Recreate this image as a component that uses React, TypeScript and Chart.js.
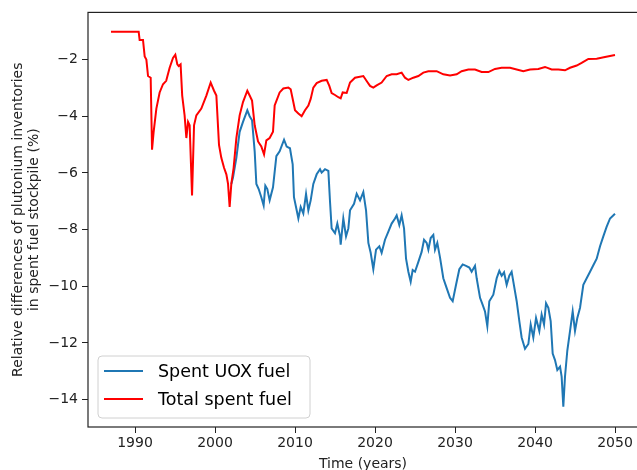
import React, { useEffect, useRef } from "react";
import { Chart, registerables } from "chart.js";

Chart.register(...registerables);

// Total spent fuel (red)
const totalYears = [
  1987.0, 1990.46, 1990.58, 1991.0, 1991.21, 1991.42, 1991.63, 1991.96, 1992.13, 1992.33,
  1992.67, 1993.08, 1993.5, 1993.9, 1994.33, 1994.75, 1995.04, 1995.29, 1995.46, 1995.7,
  1995.9, 1996.2, 1996.42, 1996.63, 1996.83, 1997.13, 1997.38, 1997.67, 1998.29, 1998.92,
  1999.46, 1999.88, 2000.17, 2000.5, 2000.79, 2001.13, 2001.42, 2001.63, 2001.83, 2002.04,
  2002.33, 2002.67, 2003.08, 2003.5, 2004.04, 2004.33, 2004.63, 2004.96, 2005.38, 2005.79,
  2006.13, 2006.42, 2006.83, 2007.25, 2007.46, 2008.08, 2008.54, 2009.17, 2009.46, 2009.79,
  2010.0, 2010.42, 2010.83, 2011.25, 2011.67, 2011.96, 2012.29, 2012.71, 2013.33, 2013.96,
  2014.29, 2014.58, 2015.0, 2015.42, 2015.71, 2015.96, 2016.46, 2016.88, 2017.5, 2018.54,
  2019.04, 2019.38, 2019.79, 2020.21, 2020.83, 2021.46, 2022.08, 2022.71, 2023.33, 2023.75,
  2024.17, 2024.79, 2025.42, 2026.04, 2026.67, 2027.71, 2028.54, 2029.38, 2030.21, 2030.83,
  2031.67, 2032.5, 2033.33, 2034.17, 2035.0, 2035.83, 2036.88, 2037.71, 2038.54, 2039.38,
  2040.42, 2041.25, 2042.08, 2042.92, 2043.75, 2044.38, 2045.21, 2045.83, 2046.67, 2047.71,
  2048.75, 2050.0,
];
const totalValues = [
  -1.02, -1.02, -1.31, -1.31, -1.89, -2.0, -2.58, -2.64, -5.18, -4.55,
  -3.73, -3.16, -2.87, -2.75, -2.29, -1.94, -1.83, -2.17, -2.23, -2.17,
  -3.27, -3.97, -4.77, -4.2, -4.32, -6.8, -4.32, -3.97, -3.73, -3.27,
  -2.81, -3.1, -3.27, -5.01, -5.47, -5.82, -6.05, -6.39, -7.2, -6.39,
  -5.82, -4.77, -3.97, -3.5, -3.1, -3.27, -3.45, -4.32, -4.89, -5.07,
  -5.35, -4.85, -4.77, -4.55, -3.62, -3.16, -3.02, -2.99, -3.05, -3.5,
  -3.79, -3.9, -4.0, -3.79, -3.62, -3.39, -2.99, -2.83, -2.75, -2.72,
  -2.93, -3.18, -3.25, -3.33, -3.37, -3.16, -3.18, -2.81, -2.64, -2.58,
  -2.79, -2.93, -2.99, -2.91, -2.81, -2.58, -2.52, -2.52, -2.46, -2.64,
  -2.72, -2.64, -2.58, -2.46, -2.41, -2.41, -2.52, -2.56, -2.52, -2.41,
  -2.35, -2.35, -2.44, -2.44, -2.33, -2.29, -2.29, -2.35, -2.41, -2.35,
  -2.33, -2.26, -2.35, -2.35, -2.38, -2.29, -2.21, -2.12, -1.98, -1.97,
  -1.91, -1.84,
];

// Spent UOX fuel (blue)
const uoxYears = [
  2002.04, 2002.25, 2002.67, 2003.08, 2003.5, 2004.04, 2004.33, 2004.63, 2004.96, 2005.17,
  2005.46, 2005.79, 2006.08, 2006.29, 2006.54, 2006.83, 2007.25, 2007.67, 2008.08, 2008.63,
  2008.96, 2009.37, 2009.71, 2009.87, 2010.21, 2010.42, 2010.71, 2011.04, 2011.38, 2011.67,
  2011.96, 2012.29, 2012.71, 2013.13, 2013.33, 2013.75, 2014.17, 2014.38, 2014.58, 2015.0,
  2015.29, 2015.63, 2015.71, 2016.04, 2016.38, 2016.67, 2016.88, 2017.38, 2017.71, 2018.13,
  2018.54, 2018.88, 2019.17, 2019.46, 2019.79, 2020.13, 2020.54, 2020.83, 2021.25, 2021.67,
  2022.08, 2022.5, 2022.71, 2023.04, 2023.33, 2023.63, 2023.88, 2024.17, 2024.46, 2024.71,
  2025.0, 2025.42, 2025.83, 2026.13, 2026.46, 2026.67, 2026.96, 2027.29, 2027.5, 2027.79,
  2028.13, 2028.54, 2028.96, 2029.38, 2029.71, 2030.13, 2030.54, 2030.96, 2031.38, 2031.79,
  2032.08, 2032.5, 2032.71, 2033.13, 2033.46, 2033.75, 2034.04, 2034.29, 2034.79, 2035.21,
  2035.54, 2035.83, 2036.13, 2036.46, 2036.79, 2037.08, 2037.29, 2037.71, 2038.04, 2038.33,
  2038.75, 2039.17, 2039.46, 2039.79, 2040.13, 2040.54, 2040.83, 2041.13, 2041.38, 2041.67,
  2041.96, 2042.21, 2042.5, 2042.79, 2043.13, 2043.33, 2043.54, 2043.75, 2044.04, 2044.38,
  2044.71, 2045.0, 2045.29, 2045.63, 2046.04, 2046.46, 2046.88, 2047.29, 2047.71, 2048.13,
  2048.54, 2048.96, 2049.38, 2050.0,
];
const uoxValues = [
  -6.39, -6.16, -5.47, -4.55, -4.2, -3.79, -4.0, -4.14, -5.24, -6.39,
  -6.57, -6.86, -7.15, -6.45, -6.57, -6.97, -6.51, -5.41, -5.24, -4.83,
  -5.07, -5.13, -5.7, -6.86, -7.32, -7.61, -7.2, -7.43, -6.74, -7.32,
  -6.97, -6.39, -6.05, -5.87, -5.99, -5.87, -5.93, -7.03, -7.96, -8.13,
  -7.79, -8.24, -8.53, -7.61, -8.24, -7.96, -7.32, -7.09, -6.74, -6.97,
  -6.68, -7.32, -8.47, -8.82, -9.4, -8.71, -8.59, -8.82, -8.36, -8.07,
  -7.79, -7.61, -7.5, -7.84, -7.5, -7.96, -9.03, -9.49, -9.84, -9.43,
  -9.49, -9.14, -8.79, -8.36, -8.47, -8.71, -8.3, -8.19, -8.71, -8.47,
  -8.99, -9.72, -10.07, -10.41, -10.53, -9.95, -9.4, -9.23, -9.28, -9.34,
  -9.49, -9.28, -9.72, -10.41, -10.66, -10.89, -11.41, -10.53, -10.3, -9.72,
  -9.46, -9.63, -9.51, -9.95, -9.63, -9.49, -9.84, -10.53, -11.23, -11.81,
  -12.21, -12.04, -11.35, -11.81, -11.12, -11.58, -11.0, -11.35, -10.6, -10.76,
  -11.23, -12.38, -12.61, -12.96, -12.84, -13.19, -14.25, -13.19, -12.27, -11.58,
  -10.89, -11.58, -11.12, -10.76, -9.95, -9.72, -9.49, -9.26, -9.03, -8.59,
  -8.24, -7.9, -7.61, -7.44,
];

const xTicks = [1990, 2000, 2010, 2020, 2030, 2040, 2050];
const yTicks = [-14, -12, -10, -8, -6, -4, -2];
const seriesLabels = ["Spent UOX fuel", "Total spent fuel"];
const seriesColors = ["#1f77b4", "#ff0000"];

const FONT = "'DejaVu Sans', sans-serif";

const framePlugin = {
  id: "frame",
  afterDatasetsDraw(chart: any) {
    const { ctx, chartArea } = chart;
    ctx.save();
    ctx.strokeStyle = "#222";
    ctx.lineWidth = 1.2;
    ctx.strokeRect(chartArea.left, chartArea.top, chartArea.right - chartArea.left, chartArea.bottom - chartArea.top);
    ctx.restore();
  },
};

const legendPlugin = {
  id: "mplLegend",
  afterDraw(chart: any) {
    const { ctx, chartArea } = chart;
    const x0 = chartArea.left + 10;
    const y0 = chartArea.bottom - 71;
    const w = 212;
    const h = 62;
    const r = 4;
    ctx.save();
    ctx.beginPath();
    ctx.moveTo(x0 + r, y0);
    ctx.lineTo(x0 + w - r, y0);
    ctx.arcTo(x0 + w, y0, x0 + w, y0 + r, r);
    ctx.lineTo(x0 + w, y0 + h - r);
    ctx.arcTo(x0 + w, y0 + h, x0 + w - r, y0 + h, r);
    ctx.lineTo(x0 + r, y0 + h);
    ctx.arcTo(x0, y0 + h, x0, y0 + h - r, r);
    ctx.lineTo(x0, y0 + r);
    ctx.arcTo(x0, y0, x0 + r, y0, r);
    ctx.closePath();
    ctx.fillStyle = "rgba(255,255,255,0.8)";
    ctx.fill();
    ctx.strokeStyle = "#d0d0d0";
    ctx.lineWidth = 1;
    ctx.stroke();
    const datasets = chart.data.datasets;
    const order = [0, 1];
    order.forEach((di, i) => {
      const ds = datasets[di];
      const ly = y0 + 15 + i * 28;
      ctx.beginPath();
      ctx.strokeStyle = ds.borderColor;
      ctx.lineWidth = 2;
      ctx.moveTo(x0 + 6, ly);
      ctx.lineTo(x0 + 45, ly);
      ctx.stroke();
      ctx.fillStyle = "#000";
      ctx.font = `17.5px ${FONT}`;
      ctx.textBaseline = "middle";
      ctx.textAlign = "left";
      ctx.fillText(ds.label, x0 + 60, ly + 1);
    });
    ctx.restore();
  },
};

export default function App() {
  const canvasRef = useRef<HTMLCanvasElement | null>(null);

  useEffect(() => {
    const canvas = canvasRef.current;
    if (!canvas) return;
    const uoxData = uoxYears.map((x, i) => ({ x, y: uoxValues[i] }));
    const totalData = totalYears.map((x, i) => ({ x, y: totalValues[i] }));
    const chart = new Chart(canvas, {
      type: "line",
      data: {
        datasets: [
          {
            label: seriesLabels[0],
            data: uoxData,
            borderColor: seriesColors[0],
            backgroundColor: seriesColors[0],
            borderWidth: 2,
            pointRadius: 0,
            tension: 0,
            order: 2,
          },
          {
            label: seriesLabels[1],
            data: totalData,
            borderColor: seriesColors[1],
            backgroundColor: seriesColors[1],
            borderWidth: 2,
            pointRadius: 0,
            tension: 0,
            order: 1,
          },
        ],
      },
      options: {
        animation: false,
        responsive: false,
        devicePixelRatio: 1,
        layout: { padding: { top: 7, left: 0, right: 22, bottom: 0 } },
        plugins: { legend: { display: false }, tooltip: { enabled: false } },
        scales: {
          x: {
            type: "linear",
            min: 1984.125,
            max: 2052.875,
            afterBuildTicks: (s: any) => {
              s.ticks = xTicks.map((v) => ({ value: v }));
            },
            afterFit: (s: any) => {
              s.height = 43;
            },
            ticks: {
              color: "#222",
              font: { family: FONT, size: 14 },
              padding: 2,
              maxRotation: 0,
              autoSkip: false,
              callback: (v: any) => String(v),
            },
            grid: { display: true, drawOnChartArea: false, drawTicks: true, tickLength: 6, color: "#222" },
            border: { display: false },
            title: {
              display: true,
              text: "Time (years)",
              color: "#222",
              font: { family: FONT, size: 14, lineHeight: 12 / 14 },
              padding: { top: 0, bottom: 0 },
            },
          },
          y: {
            type: "linear",
            min: -14.97,
            max: -0.335,
            afterBuildTicks: (s: any) => {
              s.ticks = yTicks.map((v) => ({ value: v }));
            },
            afterFit: (s: any) => {
              s.width = 88;
            },
            ticks: {
              color: "#222",
              font: { family: FONT, size: 14 },
              padding: 4,
              autoSkip: false,
              callback: (v: any) => (v < 0 ? "\u2212" + Math.abs(v) : String(v)),
            },
            grid: { display: true, drawOnChartArea: false, drawTicks: true, tickLength: 6, color: "#222" },
            border: { display: false },
            title: {
              display: true,
              text: ["Relative differences of plutonium inventories", "in spent fuel stockpile (%)"],
              color: "#222",
              font: { family: FONT, size: 14, lineHeight: 16 / 14 },
              padding: { top: 10, bottom: 0 },
            },
          },
        },
      },
      plugins: [framePlugin, legendPlugin],
    });
    return () => chart.destroy();
  }, []);

  return (
    <div style={{ position: "absolute", left: 0, top: 0, width: 637, height: 470, overflow: "hidden", background: "#fff" }}>
      <canvas ref={canvasRef} width={660} height={470} style={{ display: "block", width: 660, height: 470 }} />
    </div>
  );
}
